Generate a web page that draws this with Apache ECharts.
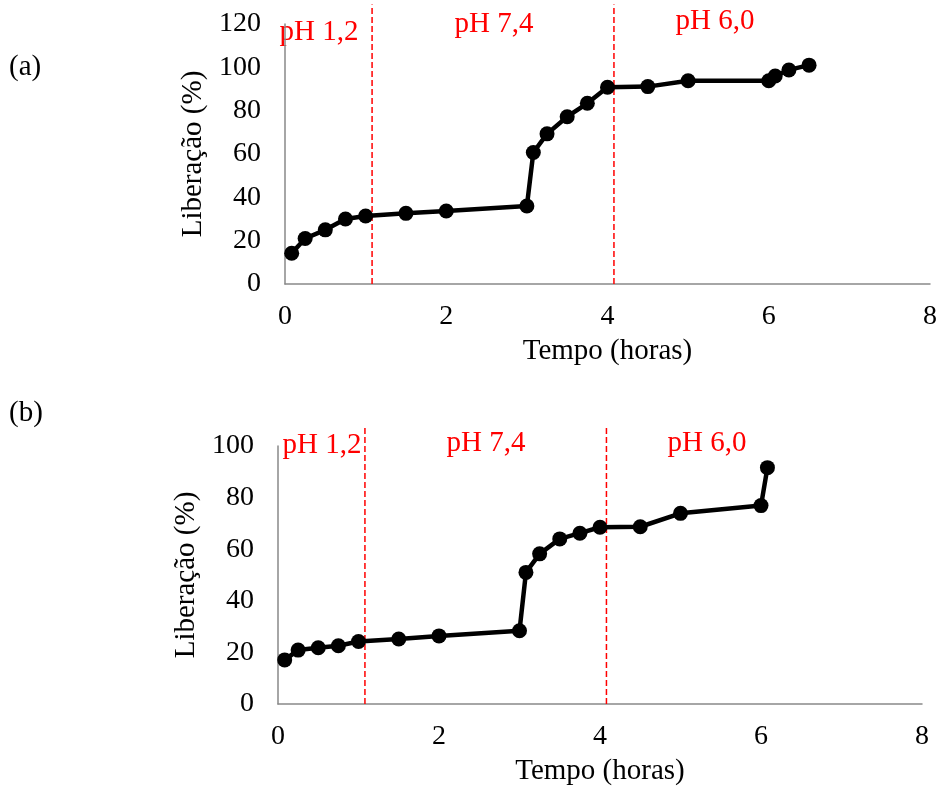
<!DOCTYPE html>
<html>
<head>
<meta charset="utf-8">
<script src="https://cdn.jsdelivr.net/npm/echarts@6/dist/echarts.min.js"></script>
<style>
html,body{margin:0;padding:0;background:#fff;}
#chart{width:940px;height:793px;}
</style>
</head>
<body>
<div id="chart"></div>
<script>
// Panel (a)
var timeA = [0.083, 0.25, 0.5, 0.75, 1.0, 1.5, 2.0, 3.0, 3.08, 3.25, 3.5, 3.75, 4.0, 4.5, 5.0, 6.0, 6.08, 6.25, 6.5];
var releaseA = [14.2, 21, 25, 30, 31.4, 32.6, 33.7, 36, 60.7, 69.3, 77.2, 83.4, 90.8, 91.1, 93.8, 93.8, 96, 98.8, 101];
// Panel (b)
var timeB = [0.083, 0.25, 0.5, 0.75, 1.0, 1.5, 2.0, 3.0, 3.08, 3.25, 3.5, 3.75, 4.0, 4.5, 5.0, 6.0, 6.08];
var releaseB = [17.1, 20.9, 21.8, 22.6, 24.2, 25.2, 26.4, 28.4, 51, 58.2, 64, 66.2, 68.5, 68.7, 73.9, 76.9, 91.6];
// pH phase boundaries (hours)
var phaseBounds = [1.08, 4.08];
var dashTopA = 129;
var dashTopB = 107;
var phaseLabels = ['pH 1,2', 'pH 7,4', 'pH 6,0'];
var panelLabels = ['(a)', '(b)'];
var xTicks = [0, 2, 4, 6, 8];
var yMaxA = 120, yMaxB = 100;
var xTitle = 'Tempo (horas)';
var yTitle = 'Liberação (%)';

var FONT = '"Liberation Serif", "Times New Roman", serif';
function zip(xs, ys){ return xs.map(function(x,i){ return [x, ys[i]]; }); }

function xAxisCfg(gi){
  return {
    type:'value', gridIndex:gi, min:xTicks[0], max:xTicks[xTicks.length-1], interval:xTicks[1]-xTicks[0],
    axisLine:{show:true, lineStyle:{color:'#898989', width:1.5}},
    axisTick:{show:false}, splitLine:{show:false},
    axisLabel:{color:'#000', fontFamily:FONT, fontSize:28, margin:19},
    name:xTitle, nameLocation:'middle', nameGap:53,
    nameTextStyle:{color:'#000', fontFamily:FONT, fontSize:29}
  };
}
function yAxisCfg(gi, max){
  return {
    type:'value', gridIndex:gi, min:0, max:max, interval:20,
    axisLine:{show:true, lineStyle:{color:'#898989', width:1.5}},
    axisTick:{show:false}, splitLine:{show:false},
    axisLabel:{color:'#000', fontFamily:FONT, fontSize:28, margin:24},
    name:yTitle, nameLocation:'middle', nameGap:70, nameRotate:90,
    nameTextStyle:{color:'#000', fontFamily:FONT, fontSize:29}
  };
}
function dataSeries(gi, xs, ys){
  return {
    type:'line', xAxisIndex:gi, yAxisIndex:gi, data:zip(xs, ys),
    lineStyle:{color:'#000', width:4.5},
    itemStyle:{color:'#000'},
    symbol:'circle', symbolSize:15, showSymbol:true,
    animation:false, z:5
  };
}
function dashSeries(gi, x, top){
  return {
    type:'line', xAxisIndex:gi, yAxisIndex:gi, data:[[x,0],[x,top]],
    lineStyle:{color:'#ff0000', width:1.5, type:[6,3]},
    symbol:'none', clip:false, animation:false, z:3
  };
}

var series = [];
phaseBounds.forEach(function(b){ series.push(dashSeries(0, b, dashTopA)); });
phaseBounds.forEach(function(b){ series.push(dashSeries(1, b, dashTopB)); });
series.push(dataSeries(0, timeA, releaseA));
series.push(dataSeries(1, timeB, releaseB));

function txt(t, x, y, color, align){
  return {type:'text', x:x, y:y, style:{text:t, fill:color, font:'29px ' + FONT, textAlign:align||'center', textVerticalAlign:'middle'}};
}

var option = {
  backgroundColor:'#fff',
  animation:false,
  grid:[
    {left:285, top:24, width:645, height:260},
    {left:278, top:446, width:644, height:258}
  ],
  xAxis:[xAxisCfg(0), xAxisCfg(1)],
  yAxis:[yAxisCfg(0, yMaxA), yAxisCfg(1, yMaxB)],
  series:series,
  graphic:[
    txt(panelLabels[0], 9, 67, '#000', 'left'),
    txt(panelLabels[1], 9, 413, '#000', 'left'),
    txt(phaseLabels[0], 319, 32, '#ff0000'),
    txt(phaseLabels[1], 494, 24, '#ff0000'),
    txt(phaseLabels[2], 715, 21, '#ff0000'),
    txt(phaseLabels[0], 322, 445, '#ff0000'),
    txt(phaseLabels[1], 486, 443, '#ff0000'),
    txt(phaseLabels[2], 707, 443, '#ff0000')
  ]
};
var chart = echarts.init(document.getElementById('chart'), null, {renderer:'canvas'});
chart.setOption(option);
</script>
</body>
</html>
